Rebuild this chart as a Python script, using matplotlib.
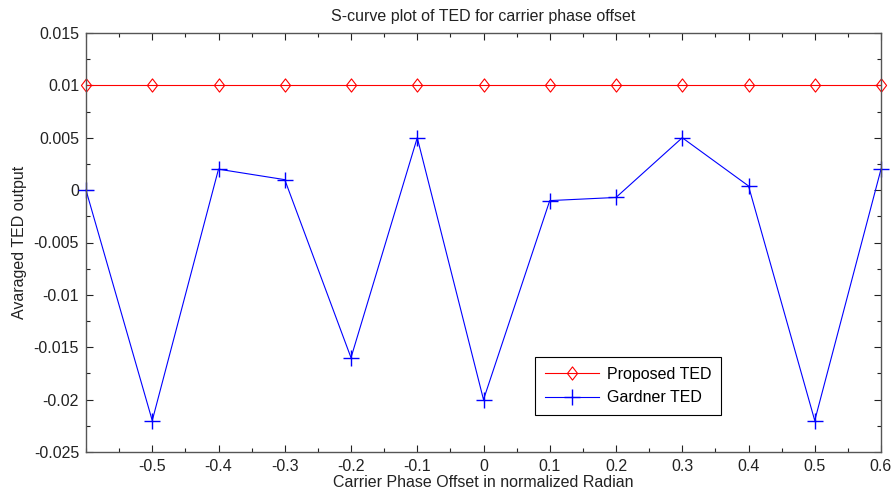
import matplotlib
matplotlib.use("Agg")
import matplotlib.pyplot as plt
from matplotlib.ticker import MultipleLocator
from matplotlib.path import Path

plt.rcParams['font.family'] = ['Liberation Sans', 'DejaVu Sans']

x_offset = [-0.6, -0.5, -0.4, -0.3, -0.2, -0.1, 0.0, 0.1, 0.2, 0.3, 0.4, 0.5, 0.6]
proposed_ted = [0.01] * 13
gardner_ted = [0.0, -0.022, 0.002, 0.001, -0.016, 0.005, -0.020, -0.001, -0.0007, 0.005, 0.0004, -0.022, 0.002]

x_ticks = [-0.5, -0.4, -0.3, -0.2, -0.1, 0, 0.1, 0.2, 0.3, 0.4, 0.5, 0.6]
x_tick_labels = ['-0.5', '-0.4', '-0.3', '-0.2', '-0.1', '0', '0.1', '0.2', '0.3', '0.4', '0.5', '0.6']
y_ticks = [-0.025, -0.02, -0.015, -0.01, -0.005, 0, 0.005, 0.01, 0.015]
y_tick_labels = ['-0.025', '-0.02', '-0.015', '-0.01', '-0.005', '0', '0.005', '0.01', '0.015']

FS = 11.5
L, R, T, B = 86, 881, 33, 452
fig = plt.figure(figsize=(8.92, 4.95), dpi=100)
ax = fig.add_axes([L/892, 1-B/495, (R-L)/892, (B-T)/495])

diamond = Path([(0, 1), (0.77, 0), (0, -1), (-0.77, 0), (0, 1)],
               [Path.MOVETO, Path.LINETO, Path.LINETO, Path.LINETO, Path.CLOSEPOLY])

ax.plot(x_offset, proposed_ted, color='red', lw=0.8, marker=diamond, markersize=9.5,
        markerfacecolor='none', markeredgecolor='red', markeredgewidth=0.8,
        label='Proposed TED', clip_on=False)
ax.plot(x_offset, gardner_ted, color='blue', lw=0.8, marker='+', markersize=11,
        markeredgewidth=1.0, label='Gardner TED', clip_on=False)

ax.set_xlim(-0.6, 0.6)
ax.set_ylim(-0.025, 0.015)
ax.set_xticks(x_ticks)
ax.set_xticklabels(x_tick_labels)
ax.set_yticks(y_ticks)
ax.set_yticklabels(y_tick_labels)
ax.xaxis.set_minor_locator(MultipleLocator(0.05))
ax.yaxis.set_minor_locator(MultipleLocator(0.0025))
ax.tick_params(which='both', direction='in', top=True, right=True, labelsize=FS, colors='#222222')
ax.tick_params(which='major', length=5, width=0.8, pad=5)
ax.tick_params(which='minor', length=3, width=0.8)
for s in ax.spines.values():
    s.set_color('#555555')
    s.set_linewidth(1.0)

ax.set_title('S-curve plot of TED for carrier phase offset', fontsize=FS, pad=9, color='#222222')
ax.set_xlabel('Carrier Phase Offset in normalized Radian', fontsize=FS, labelpad=1, color='#222222')
ax.set_ylabel('Avaraged TED output', fontsize=FS, labelpad=5, color='#222222')

leg = ax.legend(loc='lower left', bbox_to_anchor=((535-L)/(R-L), (B-415)/(B-T)),
                borderaxespad=0, fancybox=False, edgecolor='black', fontsize=FS, framealpha=1,
                handlelength=3.4, handletextpad=0.5, borderpad=0.6, labelspacing=0.55)
leg.get_frame().set_linewidth(0.8)

fig.savefig('out.png', dpi=100)
